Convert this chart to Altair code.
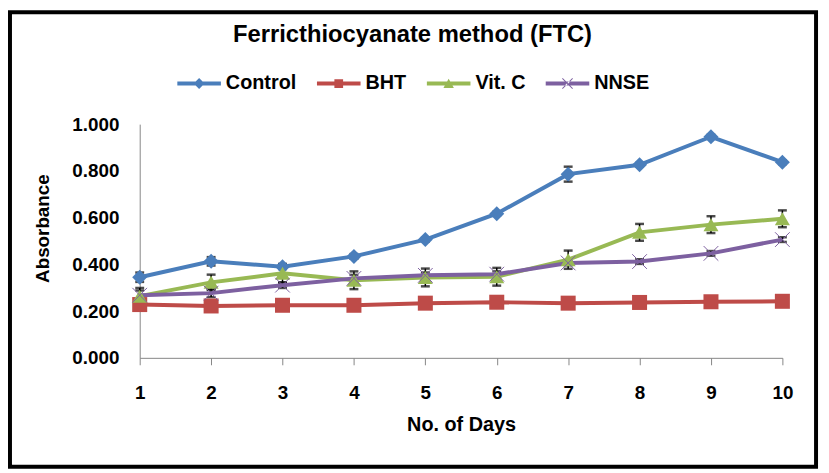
import altair as alt
import pandas as pd

# ---------------- data ----------------
days = [1, 2, 3, 4, 5, 6, 7, 8, 9, 10]
series_names = ["Control", "BHT", "Vit. C", "NNSE"]
control = [0.345, 0.413, 0.390, 0.434, 0.506, 0.617, 0.786, 0.826, 0.946, 0.837]
bht = [0.228, 0.222, 0.225, 0.225, 0.234, 0.238, 0.234, 0.237, 0.240, 0.242]
vitc = [0.264, 0.323, 0.362, 0.332, 0.344, 0.347, 0.420, 0.537, 0.570, 0.595]
nnse = [0.268, 0.277, 0.311, 0.340, 0.353, 0.358, 0.406, 0.412, 0.447, 0.506]
control_err = [0.020, 0.018, 0.010, 0.010, 0.008, 0.008, 0.032, 0.008, 0.008, 0.008]
bht_err = [0.008, 0.008, 0.008, 0.008, 0.008, 0.008, 0.008, 0.008, 0.008, 0.008]
vitc_err = [0.035, 0.033, 0.040, 0.038, 0.038, 0.038, 0.039, 0.036, 0.036, 0.036]
nnse_err = [0.020, 0.017, 0.012, 0.015, 0.012, 0.012, 0.010, 0.010, 0.010, 0.010]
y_ticks = [0.0, 0.2, 0.4, 0.6, 0.8, 1.0]

colors = ["#4A7EBB", "#BE4B48", "#98B954", "#7D60A0"]

rows = []
for name, vals, errs in zip(series_names, [control, bht, vitc, nnse],
                            [control_err, bht_err, vitc_err, nnse_err]):
    for d, v, e in zip(days, vals, errs):
        rows.append({"Day": d, "Series": name, "Value": v,
                     "Lo": v - e, "Hi": v + e})
df = pd.DataFrame(rows)

FONT = "Liberation Sans"
GRAY = "#868686"

x_enc = alt.X("Day:Q",
              scale=alt.Scale(domain=[1, 10], nice=False, zero=False),
              axis=alt.Axis(values=days, format="d", title="No. of Days",
                            grid=False, domainColor=GRAY, tickColor=GRAY,
                            tickSize=7, labelPadding=19, labelFlush=False,
                            labelFont=FONT, labelFontSize=19,
                            labelFontWeight="bold", labelColor="black",
                            titleFont=FONT, titleFontSize=20,
                            titleFontWeight="bold", titleColor="black",
                            titleBaseline="alphabetic", titleY=73))
y_scale = alt.Scale(domain=[0, 1], nice=False, zero=True)
y_enc = alt.Y("Value:Q", scale=y_scale,
              axis=alt.Axis(values=y_ticks, format=".3f", title="Absorbance",
                            grid=False, ticks=False, domainColor=GRAY,
                            labelPadding=21, labelFont=FONT, labelFontSize=19,
                            labelFontWeight="bold", labelColor="black",
                            titleFont=FONT, titleFontSize=19,
                            titleFontWeight="bold", titleColor="black",
                            titleBaseline="middle", titleAlign="center",
                            titleX=-98, titleY=105))

color_nolegend = alt.Color("Series:N",
                           scale=alt.Scale(domain=series_names, range=colors),
                           legend=None)

base = alt.Chart(df)

err_rule = base.mark_rule(color="black", strokeWidth=1.5).encode(
    x=x_enc, y=alt.Y("Lo:Q", scale=y_scale), y2="Hi:Q")
cap_lo = base.mark_tick(color="black", thickness=2.5, size=9,
                        orient="horizontal").encode(
    x=x_enc, y=alt.Y("Lo:Q", scale=y_scale))
cap_hi = base.mark_tick(color="black", thickness=2.5, size=9,
                        orient="horizontal").encode(
    x=x_enc, y=alt.Y("Hi:Q", scale=y_scale))

lines = base.mark_line(strokeWidth=4).encode(
    x=x_enc, y=y_enc, color=color_nolegend, order="Day:Q")

shape_x = "M-1,-1L1,1M-1,1L1,-1"
points = base.transform_filter(alt.datum.Series != "NNSE").mark_point(
    filled=True, opacity=1, size=230).encode(
    x=x_enc, y=y_enc, color=color_nolegend,
    shape=alt.Shape("Series:N",
                    scale=alt.Scale(domain=series_names,
                                    range=["diamond", "square", "triangle-up", shape_x]),
                    legend=None))
xpoints = base.transform_filter(alt.datum.Series == "NNSE").mark_point(
    filled=False, opacity=1, size=220, strokeWidth=1, shape=shape_x).encode(
    x=x_enc, y=y_enc, color=color_nolegend)

# legend symbols: a line segment with the series marker
bar = "M-1,-0.09L1,-0.09L1,0.09L-1,0.09Z"
leg_shapes = [
    bar + "M0,-0.25L0.25,0L0,0.25L-0.25,0Z",
    bar + "M-0.2,-0.2L0.2,-0.2L0.2,0.2L-0.2,0.2Z",
    bar + "M0,-0.22L0.24,0.2L-0.24,0.2Z",
    bar + "M-0.25,-0.22L-0.22,-0.25L0.25,0.22L0.22,0.25Z"
          "M-0.25,0.22L-0.22,0.25L0.25,-0.22L0.22,-0.25Z",
]
legend_cfg = alt.Legend(title=None, orient="none", direction="horizontal",
                        legendX=38, legendY=-63, padding=0,
                        symbolSize=1936, symbolStrokeWidth=0,
                        labelFont=FONT, labelFontSize=20,
                        labelFontWeight="bold", labelColor="black",
                        labelOffset=5, columnPadding=20)
legend_layer = base.transform_filter("false").mark_point(
    filled=True, opacity=1).encode(
    x=x_enc, y=y_enc,
    color=alt.Color("Series:N",
                    scale=alt.Scale(domain=series_names, range=colors),
                    legend=legend_cfg),
    shape=alt.Shape("Series:N",
                    scale=alt.Scale(domain=series_names, range=leg_shapes),
                    legend=legend_cfg))

frame = alt.Chart(alt.Data(values=[{"k": 1}])).mark_rect(
    fillOpacity=0, stroke="black", strokeWidth=4).encode(
    x=alt.value(-131), x2=alt.value(683), y=alt.value(-113), y2=alt.value(346))

chart = alt.layer(
    frame, err_rule, cap_lo, cap_hi, lines, points, xpoints, legend_layer
).resolve_scale(
    color="independent", shape="independent"
).properties(
    width=649, height=236,
    autosize=alt.AutoSizeParams(type="none"),
    padding={"left": 133, "top": 115, "right": 39, "bottom": 114},
    title=alt.TitleParams("Ferricthiocyanate method (FTC)", font=FONT,
                          fontSize=24, fontWeight="bold", color="black",
                          anchor="middle", frame="group", dx=-49,
                          baseline="alphabetic", offset=0, dy=56),
    background="white",
).configure_view(stroke=None)

chart.save("out.html", embed_options={"renderer": "svg", "actions": False})
